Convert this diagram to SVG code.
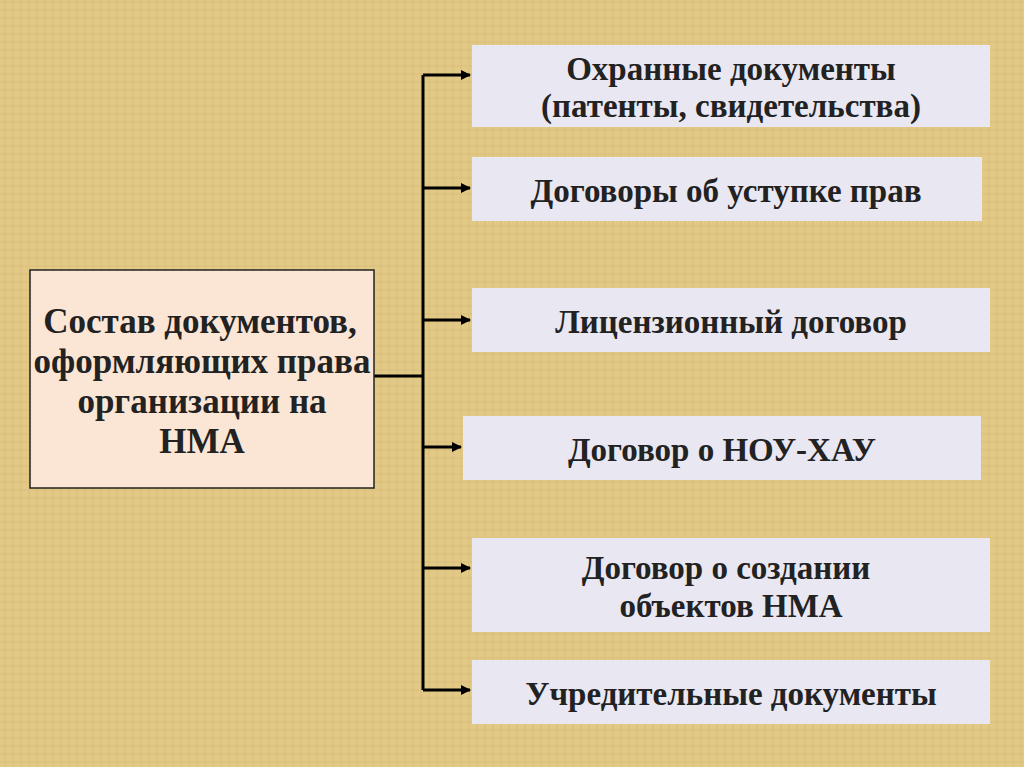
<svg xmlns="http://www.w3.org/2000/svg" width="1024" height="767" viewBox="0 0 1024 767">
<defs>
<style>
.t{font-family:"Liberation Serif",serif;font-weight:bold;font-size:33px;fill:#222;text-anchor:middle}
.l{font-size:35px}
.b{fill:#e9e7f1}
.c{stroke:#000;stroke-width:3;fill:none}
</style>
<marker id="a" markerWidth="10" markerHeight="10" refX="9" refY="5" orient="auto" markerUnits="userSpaceOnUse"><path d="M0,0 L10,5 L0,10 Z" fill="#000"/></marker>
<pattern id="p" width="8" height="8" patternUnits="userSpaceOnUse"><rect width="8" height="8" fill="#e2c985"/><path d="M0,2 H8 M5,0 V8" stroke="#d3b872" stroke-width="1" opacity="0.6"/></pattern>
</defs>
<rect width="1024" height="767" fill="url(#p)"/>
<g id="connectors">
<path class="c" d="M374,376 H423 M423,75 V690"/>
<path class="c" marker-end="url(#a)" d="M423,75 H470"/>
<path class="c" marker-end="url(#a)" d="M423,188 H470"/>
<path class="c" marker-end="url(#a)" d="M423,320 H470"/>
<path class="c" marker-end="url(#a)" d="M423,447 H461"/>
<path class="c" marker-end="url(#a)" d="M423,568 H470"/>
<path class="c" marker-end="url(#a)" d="M423,690 H470"/>
</g>
<g id="root"><rect x="30" y="270" width="344" height="218" fill="#fbe6d6" stroke="#222" stroke-width="1.5"/>
<text class="t l" x="200" y="333">Состав документов,</text><text class="t l" x="202" y="373">оформляющих права</text><text class="t l" x="202" y="413">организации на</text><text class="t l" x="202" y="453">НМА</text></g>
<g id="n1"><rect class="b" x="472" y="45" width="518" height="82"/><text class="t" x="731" y="80">Охранные документы</text><text class="t" x="731" y="117">(патенты, свидетельства)</text></g>
<g id="n2"><rect class="b" x="472" y="157" width="510" height="64"/><text class="t" x="726" y="202">Договоры об уступке прав</text></g>
<g id="n3"><rect class="b" x="472" y="288" width="518" height="64"/><text class="t" x="731" y="333">Лицензионный договор</text></g>
<g id="n4"><rect class="b" x="463" y="416" width="518" height="64"/><text class="t" x="722" y="461">Договор о НОУ-ХАУ</text></g>
<g id="n5"><rect class="b" x="472" y="538" width="518" height="94"/><text class="t" x="726" y="579">Договор о создании</text><text class="t" x="731" y="617">объектов НМА</text></g>
<g id="n6"><rect class="b" x="472" y="660" width="518" height="64"/><text class="t" x="731" y="705">Учредительные документы</text></g>
</svg>
